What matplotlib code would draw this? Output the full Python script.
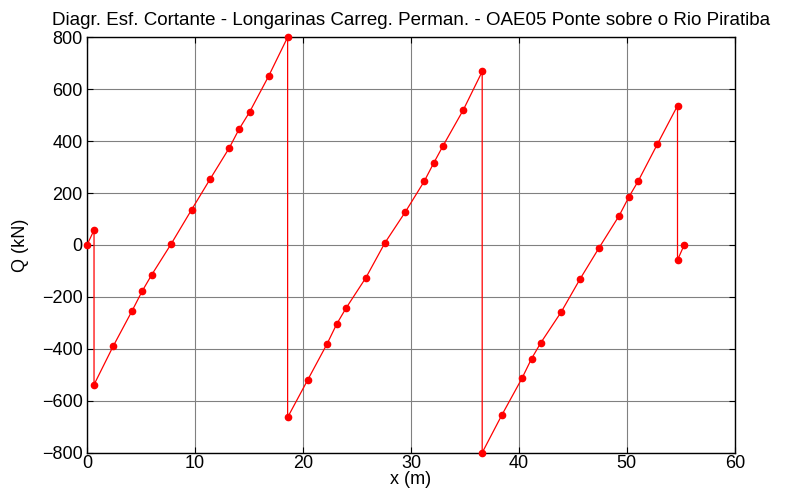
import matplotlib
matplotlib.use('Agg')
from matplotlib import pyplot as plt

# shear diagram points (x in m, Q in kN)
x = [0.0, 0.65, 0.65, 2.41, 4.17, 5.12, 5.99, 7.78, 9.69, 11.42, 13.18,
     14.07, 15.06, 16.82, 18.58, 18.58, 20.45, 22.22, 23.12, 23.98, 25.83,
     27.59, 29.48, 31.23, 32.13, 32.99, 34.85, 36.6, 36.6, 38.42, 40.28,
     41.17, 42.04, 43.92, 45.68, 47.41, 49.29, 50.19, 51.05, 52.81, 54.69,
     54.69, 55.31]
Q = [0, 57, -538, -391, -254, -177, -115, 3, 136, 255, 374,
     445, 512, 650, 800, -664, -519, -382, -305, -244, -126,
     8, 127, 245, 317, 383, 520, 668, -800, -655, -514,
     -438, -376, -258, -130, -12, 113, 185, 246, 387, 536,
     -58, 0]

title = 'Diagr. Esf. Cortante - Longarinas Carreg. Perman. - OAE05 Ponte sobre o Rio Piratiba'
xticks = [0, 10, 20, 30, 40, 50, 60]
yticks = [-800, -600, -400, -200, 0, 200, 400, 600, 800]

plt.rcParams['font.family'] = ['Liberation Sans', 'DejaVu Sans']
fs = 13

fig = plt.figure(figsize=(7.91, 5.03), dpi=100)
ax = fig.add_axes([0.110, 0.100, 0.819, 0.826])
ax.plot(x, Q, color='red', lw=0.9, marker='o', markersize=4.5,
        markeredgecolor='red', markerfacecolor='red', clip_on=False, zorder=3)
ax.set_xlim(0, 60)
ax.set_ylim(-800, 800)
ax.set_xticks(xticks)
ax.set_yticks(yticks)
ax.grid(True, color='#808080', lw=0.8)
ax.tick_params(direction='in', top=True, right=True, length=4, width=0.8,
               labelsize=fs)
ax.tick_params(axis='x', pad=2)
ax.tick_params(axis='y', pad=3)
for s in ax.spines.values():
    s.set_linewidth(1.0)
ax.set_xlabel('x (m)', fontsize=fs, labelpad=-1)
ax.set_ylabel('Q (kN)', fontsize=fs, labelpad=9)
ax.set_title(title, fontsize=13.5, pad=9)
fig.savefig('out.png')
plt.close(fig)
